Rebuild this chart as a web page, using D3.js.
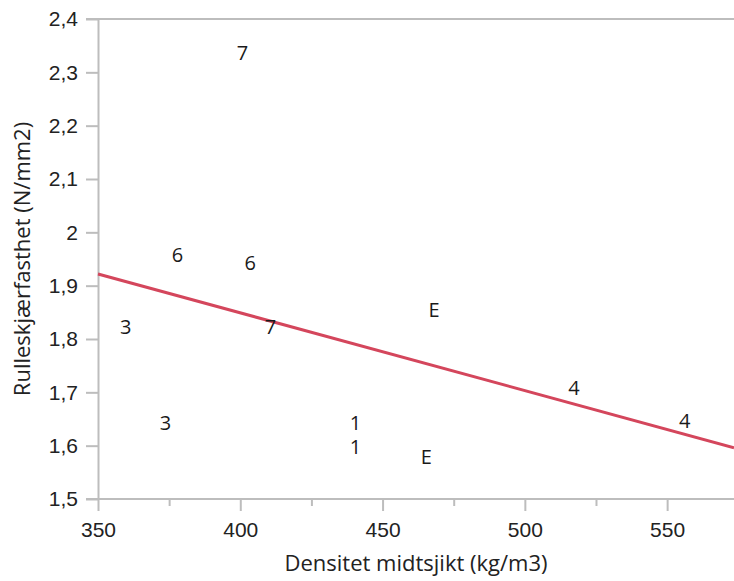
<!DOCTYPE html>
<html>
<head>
<meta charset="utf-8">
<script src="https://cdn.jsdelivr.net/npm/d3@7"></script>
<style>
  html, body { margin: 0; padding: 0; background: #fff; }
  svg { display: block; font-family: "Open Sans", "Noto Sans", sans-serif; }
</style>
</head>
<body>
<svg id="chart" width="734" height="581"></svg>
<script>
// Sample groups (labels drawn as the point markers)
const pointLabels = ["7", "6", "6", "3", "3", "7", "E", "1", "1", "E", "4", "4"];
const density = [400.8, 377.9, 403.5, 359.7, 373.7, 410.6, 468.1, 440.5, 440.5, 465.4, 517.3, 556.2];
const strength = [2.336, 1.957, 1.942, 1.822, 1.643, 1.822, 1.854, 1.642, 1.597, 1.579, 1.708, 1.646];

// Linear trend line endpoints
const trendX = [350, 573.5];
const trendY = [1.922, 1.596];

const xTicks = [350, 400, 450, 500, 550];
const xMinorTicks = [375, 425, 475, 525];
const yTicks = [1.5, 1.6, 1.7, 1.8, 1.9, 2.0, 2.1, 2.2, 2.3, 2.4];

const xTitle = "Densitet midtsjikt (kg/m3)";
const yTitle = "Rulleskjærfasthet (N/mm2)";

const svg = d3.select("#chart");
const plotLeft = 98, plotRight = 734, plotTop = 19, plotBottom = 499;
const axisColor = "#bdbdbd";
const textColor = "#222";

const x = d3.scaleLinear().domain([350, 573.5]).range([plotLeft, plotRight]);
const y = d3.scaleLinear().domain([1.5, 2.4]).range([plotBottom, plotTop]);

const fmt = v => {
  const s = (Math.round(v * 10) / 10).toString();
  return s.replace(".", ",");
};

// Top border line
svg.append("line")
  .attr("x1", plotLeft - 12).attr("x2", plotRight)
  .attr("y1", y(2.4)).attr("y2", y(2.4))
  .attr("stroke", axisColor).attr("stroke-width", 2);

// Y axis
const yAxis = svg.append("g")
  .attr("transform", `translate(${plotLeft},0)`)
  .call(d3.axisLeft(y).tickValues(yTicks).tickFormat(fmt).tickSize(12).tickSizeOuter(0).tickPadding(8));
yAxis.select(".domain").attr("stroke", axisColor).attr("stroke-width", 2);
yAxis.selectAll(".tick line").attr("stroke", axisColor).attr("stroke-width", 2);
yAxis.selectAll(".tick text")
  .attr("fill", textColor).style("font-size", "21px");

// X axis (major ticks)
const xAxis = svg.append("g")
  .attr("transform", `translate(0,${plotBottom})`)
  .call(d3.axisBottom(x).tickValues(xTicks).tickFormat(d3.format("d")).tickSize(12).tickSizeOuter(0).tickPadding(11));
xAxis.select(".domain").attr("stroke", axisColor).attr("stroke-width", 2)
  .attr("d", `M${plotLeft - 12},0H${plotRight}`);
xAxis.selectAll(".tick line").attr("stroke", axisColor).attr("stroke-width", 2);
xAxis.selectAll(".tick text")
  .attr("fill", textColor).style("font-size", "21px");

// X axis minor ticks
svg.append("g")
  .attr("transform", `translate(0,${plotBottom})`)
  .call(d3.axisBottom(x).tickValues(xMinorTicks).tickFormat("").tickSize(7).tickSizeOuter(0))
  .call(g => g.select(".domain").remove())
  .selectAll(".tick line").attr("stroke", axisColor).attr("stroke-width", 2);

// Axis titles
svg.append("text")
  .attr("x", (plotLeft + plotRight) / 2).attr("y", 571)
  .attr("text-anchor", "middle")
  .attr("fill", textColor).style("font-size", "22px")
  .text(xTitle);

svg.append("text")
  .attr("transform", `translate(30,${(plotTop + plotBottom) / 2}) rotate(-90)`)
  .attr("text-anchor", "middle")
  .attr("fill", textColor).style("font-size", "22px")
  .text(yTitle);

// Trend line
svg.append("path")
  .datum(trendX.map((d, i) => [d, trendY[i]]))
  .attr("fill", "none")
  .attr("stroke", "#d4465c")
  .attr("stroke-width", 3)
  .attr("d", d3.line().x(d => x(d[0])).y(d => y(d[1])));

// Point labels
const fs = 20;
svg.append("g")
  .selectAll("text")
  .data(pointLabels.map((l, i) => ({ l, x: density[i], y: strength[i] })))
  .join("text")
  .attr("x", d => x(d.x))
  .attr("y", d => y(d.y) + fs * 0.357)
  .attr("text-anchor", "middle")
  .attr("fill", "#1a1a1a")
  .style("font-size", fs + "px")
  .text(d => d.l);
</script>
</body>
</html>
